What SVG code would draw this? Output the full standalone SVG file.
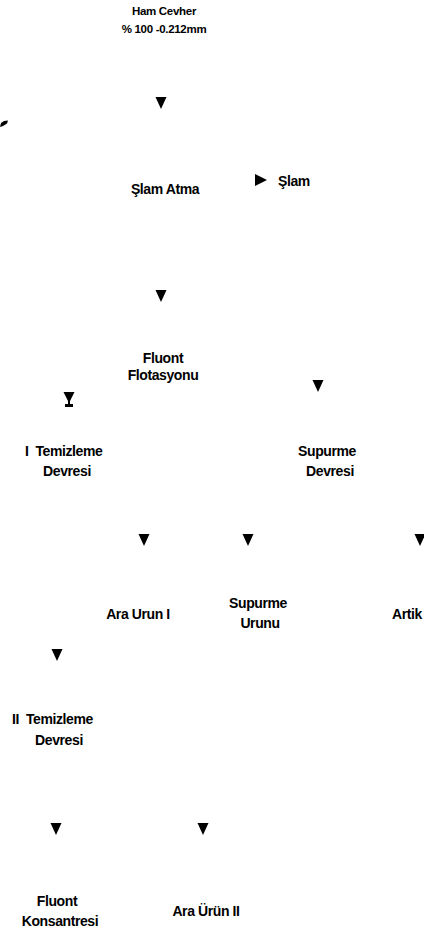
<svg xmlns="http://www.w3.org/2000/svg" width="424" height="933" viewBox="0 0 424 933">
<style>
text{font-family:"Liberation Sans",Arial,sans-serif;font-weight:bold;font-size:14px;fill:#000;letter-spacing:-0.4px}
.s{font-size:11.5px;letter-spacing:-0.3px}
.c{text-anchor:middle}
.ah{fill:#000}
</style>
<defs>
<path id="ad" d="M-5.5,-6 L5.5,-6 L0,6 Z"/>
<path id="ar" d="M-6,-6 L6,0 L-6,6 Z"/>
</defs>
<rect width="424" height="933" fill="#fff"/>
<g id="connectors" class="ah">
<use href="#ad" x="161" y="103"/>
<use href="#ar" x="261" y="180"/>
<use href="#ad" x="161" y="296"/>
<path d="M63.5,392 L74.5,392 L70,401 L70,404 L73,404 L73,407 L65,407 L65,404 L68,404 L68,401 Z"/>
<use href="#ad" x="318" y="386"/>
<use href="#ad" x="144" y="540"/>
<use href="#ad" x="248" y="540"/>
<use href="#ad" x="420" y="540"/>
<use href="#ad" x="57" y="655"/>
<use href="#ad" x="56" y="829"/>
<use href="#ad" x="203" y="829"/>
<path d="M0,127 L1,123 L4,121 L8,120.5 L7,123.5 L3,126 Z"/>
</g>
<g id="ham-cevher"><text class="s c" x="164" y="15">Ham Cevher</text><text class="s c" x="164" y="33">% 100 -0.212mm</text></g>
<g id="slam-atma"><text class="c" x="165" y="194">Şlam Atma</text></g>
<g id="slam"><text x="278" y="186">Şlam</text></g>
<g id="fluont-flotasyonu"><text class="c" x="163" y="363">Fluont</text><text class="c" x="163" y="380">Flotasyonu</text></g>
<g id="temizleme-1"><text x="25" y="456" xml:space="preserve">I  Temizleme</text><text class="c" x="67" y="476">Devresi</text></g>
<g id="supurme-devresi"><text class="c" x="327" y="456">Supurme</text><text class="c" x="330" y="476">Devresi</text></g>
<g id="ara-urun-1"><text class="c" x="138" y="619">Ara Urun I</text></g>
<g id="supurme-urunu"><text class="c" x="258" y="608">Supurme</text><text class="c" x="260" y="628">Urunu</text></g>
<g id="artik"><text x="392" y="619">Artik</text></g>
<g id="temizleme-2"><text x="12" y="724" xml:space="preserve">II  Temizleme</text><text class="c" x="59" y="745">Devresi</text></g>
<g id="fluont-konsantresi"><text class="c" x="57" y="906">Fluont</text><text class="c" x="60" y="926">Konsantresi</text></g>
<g id="ara-urun-2"><text class="c" x="206" y="916">Ara Ürün II</text></g>
</svg>
